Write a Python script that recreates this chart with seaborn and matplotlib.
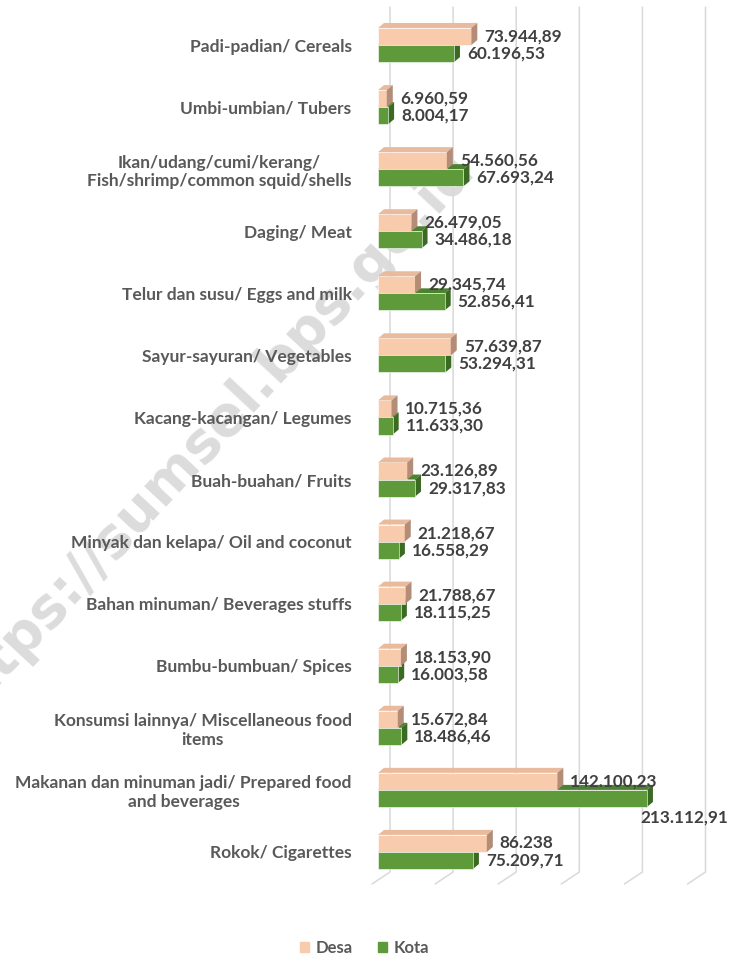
import pandas as pd
import matplotlib
matplotlib.use("Agg")
import matplotlib.pyplot as plt
import matplotlib.transforms as mtransforms
from matplotlib.patches import Polygon, Patch
from matplotlib.lines import Line2D
import seaborn as sns

# data (Desa = rural, Kota = urban)
categories = [
    "Padi-padian/ Cereals",
    "Umbi-umbian/ Tubers",
    "Ikan/udang/cumi/kerang/\nFish/shrimp/common squid/shells",
    "Daging/ Meat",
    "Telur dan susu/ Eggs and milk",
    "Sayur-sayuran/ Vegetables",
    "Kacang-kacangan/ Legumes",
    "Buah-buahan/ Fruits",
    "Minyak dan kelapa/ Oil and coconut",
    "Bahan minuman/ Beverages stuffs",
    "Bumbu-bumbuan/ Spices",
    "Konsumsi lainnya/ Miscellaneous food\nitems",
    "Makanan dan minuman jadi/ Prepared food\nand beverages",
    "Rokok/ Cigarettes",
]
desa = [73944.89, 6960.59, 54560.56, 26479.05, 29345.74, 57639.87, 10715.36,
        23126.89, 21218.67, 21788.67, 18153.90, 15672.84, 142100.23, 86238.00]
kota = [60196.53, 8004.17, 67693.24, 34486.18, 52856.41, 53294.31, 11633.30,
        29317.83, 16558.29, 18115.25, 16003.58, 18486.46, 213112.91, 75209.71]
desa_text = ["73.944,89", "6.960,59", "54.560,56", "26.479,05", "29.345,74",
             "57.639,87", "10.715,36", "23.126,89", "21.218,67", "21.788,67",
             "18.153,90", "15.672,84", "142.100,23", "86.238"]
kota_text = ["60.196,53", "8.004,17", "67.693,24", "34.486,18", "52.856,41",
             "53.294,31", "11.633,30", "29.317,83", "16.558,29", "18.115,25",
             "16.003,58", "18.486,46", "213.112,91", "75.209,71"]
grid_ticks = [0, 50000, 100000, 150000, 200000, 250000]

desa_front, desa_top, desa_side = "#F8CBAD", "#E9BB9C", "#B38D77"
kota_front, kota_top, kota_side = "#5E9A3A", "#4C8230", "#3B6A22"

df = pd.DataFrame({
    "kategori": categories * 2,
    "nilai": desa + kota,
    "wilayah": ["Desa"] * len(desa) + ["Kota"] * len(kota),
})

sns.set_theme(style="white")
plt.rcParams["font.family"] = ["Lato", "DejaVu Sans"]

W, H = 729, 957
fig = plt.figure(figsize=(W / 100, H / 100), dpi=100)
ax = fig.add_axes([378 / W, 1 - 883 / H, (693.5 - 378) / W, (883 - 14) / H])
ax.set_facecolor("none")

sns.barplot(data=df, y="kategori", x="nilai", hue="wilayah",
            hue_order=["Desa", "Kota"],
            palette={"Desa": desa_front, "Kota": kota_front},
            orient="h", width=0.55, saturation=1, legend=False, ax=ax,
            edgecolor="white", linewidth=0.4)
ax.set_xlim(0, 250000)
ax.set_ylim(13.5, -0.5)
ax.set_autoscale_on(False)
for s in ax.spines.values():
    s.set_visible(False)
ax.set_xticks([])
ax.set_xlabel("")
ax.set_ylabel("")
ax.tick_params(axis="y", length=0, pad=19, labelsize=12.5, labelcolor="#595959")
for lab in ax.get_yticklabels():
    lab.set_fontweight("bold")
    lab.set_multialignment("center")

ident = mtransforms.IdentityTransform()

# slanted "3D" gridlines
for v in grid_ticks:
    xf = ax.transData.transform((v, 0))[0]
    ax.add_line(Line2D([xf + 12, xf + 12, xf - 6], [H - 7, H - 872, H - 884],
                       transform=ident, color="#d9d9d9", lw=1.1, zorder=0.3,
                       clip_on=False))

# depth faces for the bars
dx, dy = 6, 5
for cont, top_c, side_c, z in [(ax.containers[1], kota_top, kota_side, 0.9),
                               (ax.containers[0], desa_top, desa_side, 1.1)]:
    for p in cont.patches:
        (x0, y0), (x1, y1) = ax.transData.transform(
            [(p.get_x(), p.get_y()), (p.get_x() + p.get_width(), p.get_y() + p.get_height())])
        yb, yt = min(y0, y1), max(y0, y1)
        ax.add_patch(Polygon([(x0, yt), (x1, yt), (x1 + dx, yt + dy), (x0 + dx, yt + dy)],
                             closed=True, transform=ident, facecolor=top_c,
                             edgecolor="none", zorder=z, clip_on=False))
        ax.add_patch(Polygon([(x1, yb), (x1, yt), (x1 + dx, yt + dy), (x1 + dx, yb + dy)],
                             closed=True, transform=ident, facecolor=side_c,
                             edgecolor="none", zorder=z, clip_on=False))

# value labels
for cont, texts in [(ax.containers[0], desa_text), (ax.containers[1], kota_text)]:
    for p, t in zip(cont.patches, texts):
        xe = p.get_x() + p.get_width()
        yc = p.get_y() + p.get_height() / 2
        off = (13, 0)
        if p.get_width() > 200000:
            off = (-7, -19)
        ax.annotate(t, (xe, yc), xytext=off, textcoords="offset pixels",
                    ha="left", va="center", fontsize=12.3, fontweight="bold",
                    color="#404040", zorder=3, annotation_clip=False)

# watermark
fig.text(206 / W, 1 - 438 / H, "https://sumsel.bps.go.id", rotation=47,
         rotation_mode="anchor", ha="center", va="center", fontsize=40,
         color="#dcdcdc", family="DejaVu Sans", fontweight="bold", zorder=-1)

handles = [Patch(color=desa_front), Patch(color=kota_front)]
fig.legend(handles, ["Desa", "Kota"], loc="center", bbox_to_anchor=(0.5, 1 - 948 / H),
           ncol=2, frameon=False, handlelength=0.55, handleheight=0.55,
           handletextpad=0.4, columnspacing=1.5,
           prop={"size": 12, "weight": "bold"}, labelcolor="#595959")

fig.savefig("out.png", dpi=100)
